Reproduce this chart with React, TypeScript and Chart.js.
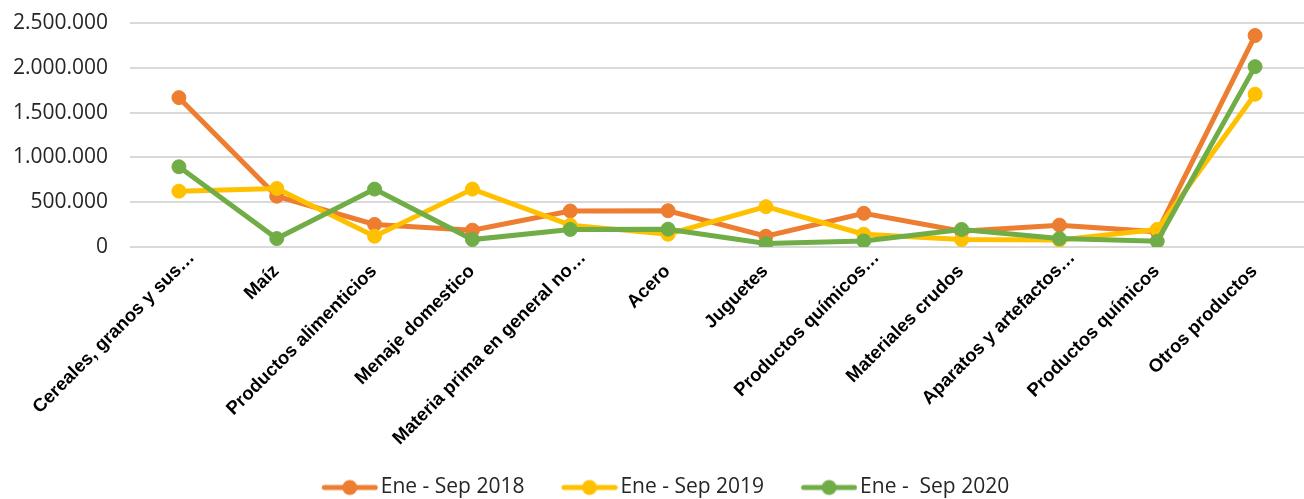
import React, { useEffect, useRef } from "react";
import { Chart, registerables } from "chart.js";

Chart.register(...registerables);

const categories = [
  "Cereales, granos y sus…",
  "Maíz",
  "Productos alimenticios",
  "Menaje domestico",
  "Materia prima en general no…",
  "Acero",
  "Juguetes",
  "Productos químicos…",
  "Materiales crudos",
  "Aparatos y artefactos…",
  "Productos químicos",
  "Otros productos",
];

const seriesLabels = ["Ene - Sep 2018", "Ene - Sep 2019", "Ene -  Sep 2020"];

const values2018 = [1667000, 567000, 252000, 188000, 402000, 405000, 120000, 376000, 175000, 244000, 169000, 2360000];
const values2019 = [623000, 653000, 120000, 646000, 244000, 143000, 450000, 143000, 83000, 78000, 196000, 1705000];
const values2020 = [895000, 94000, 646000, 83000, 196000, 199000, 38000, 68000, 196000, 94000, 64000, 2013000];

const yTicks = [0, 500000, 1000000, 1500000, 2000000, 2500000];

const colors = ["#ED7D31", "#FFC000", "#70AD47"];

const X_FONT_SIZE = 18.5;
const X_FONT = `bold ${X_FONT_SIZE}px 'Liberation Sans'`;

function fmt(v: number): string {
  return String(Math.round(v)).replace(/\B(?=(\d{3})+(?!\d))/g, ".");
}

function makeIcon(color: string): HTMLCanvasElement {
  const c = document.createElement("canvas");
  c.width = 91;
  c.height = 18;
  const ctx = c.getContext("2d")!;
  const cx = 62.75;
  const cy = 9;
  ctx.strokeStyle = color;
  ctx.lineWidth = 5;
  ctx.lineCap = "round";
  ctx.beginPath();
  ctx.moveTo(cx - 25.5, cy);
  ctx.lineTo(cx + 25.5, cy);
  ctx.stroke();
  ctx.fillStyle = color;
  ctx.beginPath();
  ctx.arc(cx, cy, 7.5, 0, Math.PI * 2);
  ctx.fill();
  return c;
}

// Draws the rotated category labels (Excel lets truncated labels run a little past the tick)
const xLabelPlugin = {
  id: "xLabels",
  afterDraw(chart: any) {
    const scale = chart.scales.x;
    const ctx = chart.ctx;
    const labels: string[] = chart.data.labels;
    ctx.save();
    ctx.font = X_FONT;
    ctx.fillStyle = "#000000";
    ctx.textAlign = "right";
    ctx.textBaseline = "middle";
    labels.forEach((lab, i) => {
      const x = scale.getPixelForTick(i);
      const y = scale.top + 5;
      const extra = lab.endsWith("…") ? 7 : -12;
      ctx.save();
      ctx.translate(x, y);
      ctx.rotate(-Math.PI / 4);
      ctx.fillText(lab, extra, (X_FONT_SIZE * 1.2) / 2);
      ctx.restore();
    });
    ctx.restore();
  },
};

export default function App() {
  const ref = useRef<HTMLCanvasElement>(null);

  useEffect(() => {
    if (!ref.current) return;
    const series = [values2018, values2019, values2020];
    const icons = colors.map(makeIcon);
    const chart = new Chart(ref.current, {
      type: "line",
      data: {
        labels: categories,
        datasets: series.map((vals, i) => ({
          label: seriesLabels[i],
          data: vals,
          borderColor: colors[i],
          backgroundColor: colors[i],
          pointBackgroundColor: colors[i],
          pointBorderColor: colors[i],
          borderWidth: 5,
          pointRadius: 7,
          pointBorderWidth: 1,
          tension: 0,
          fill: false,
          order: 3 - i,
        })),
      },
      plugins: [xLabelPlugin],
      options: {
        animation: false,
        responsive: false,
        devicePixelRatio: 1,
        layout: { autoPadding: false, padding: { top: 23, left: 0, right: 0, bottom: 0 } },
        plugins: {
          tooltip: { enabled: false },
          legend: {
            position: "bottom",
            labels: {
              usePointStyle: true,
              pointStyleWidth: 75.5,
              padding: 10,
              color: "#262626",
              font: { family: "'Open Sans'", size: 21 },
              generateLabels: (ch: any) =>
                ch.data.datasets.map((ds: any, i: number) => ({
                  text: ds.label,
                  fillStyle: colors[i],
                  strokeStyle: colors[i],
                  lineWidth: 0,
                  pointStyle: icons[i],
                  datasetIndex: i,
                  hidden: false,
                  fontColor: "#262626",
                })),
            },
          },
        },
        scales: {
          x: {
            type: "category",
            offset: true,
            grid: { display: false },
            border: { display: false },
            ticks: { display: false, autoSkip: false },
            afterFit: (scale: any) => {
              scale.height = 220;
              scale.paddingLeft = 0;
              scale.paddingRight = 0;
            },
          },
          y: {
            min: 0,
            max: 2500000,
            afterBuildTicks: (scale: any) => {
              scale.ticks = yTicks.map((v) => ({ value: v }));
            },
            grid: { color: "#D9D9D9", lineWidth: 2, drawTicks: false },
            border: { display: false },
            ticks: {
              padding: 22,
              color: "#262626",
              font: { family: "'Open Sans'", size: 21 },
              callback: (v: any) => fmt(Number(v)),
            },
            afterFit: (scale: any) => {
              scale.width = 130;
              scale.paddingTop = 0;
              scale.paddingBottom = 0;
            },
          },
        },
      },
    });
    return () => chart.destroy();
  }, []);

  return (
    <div
      style={{
        position: "fixed",
        left: 0,
        top: 0,
        width: 1304,
        height: 499,
        overflow: "hidden",
        background: "#ffffff",
      }}
    >
      <canvas ref={ref} width={1304} height={508} style={{ display: "block" }} />
    </div>
  );
}
